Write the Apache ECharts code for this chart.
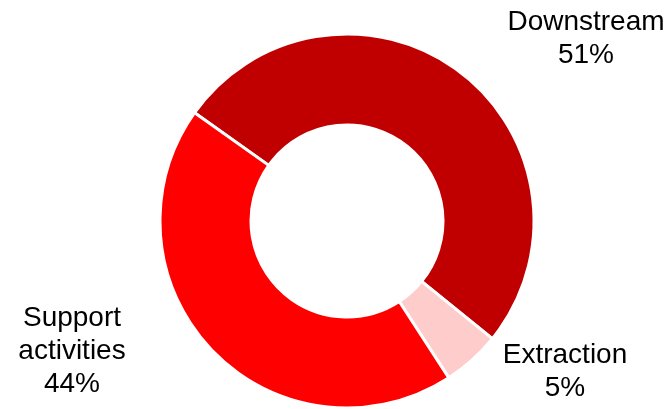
<!DOCTYPE html>
<html>
<head>
<meta charset="utf-8">
<script src="https://cdn.jsdelivr.net/npm/echarts@6/dist/echarts.min.js"></script>
<style>html,body{margin:0;padding:0;background:#fff;}#c{width:666px;height:409px;}</style>
</head>
<body>
<div id="c"></div>
<script>
const categories = ['Downstream', 'Extraction', 'Support activities'];
const labelNames = ['Downstream', 'Extraction', 'Support\nactivities'];
const values = [51, 5, 44];
const colors = ['#C00000', '#FFCCCC', '#FF0000'];
const labelSpots = [[586, 39], [565, 372], [72, 351]];

const chart = echarts.init(document.getElementById('c'), null, {renderer: 'canvas'});
chart.setOption({
  animation: false,
  backgroundColor: '#ffffff',
  series: [{
    type: 'pie',
    center: [347, 221],
    radius: [96, 187],
    startAngle: 144.6,
    clockwise: true,
    avoidLabelOverlap: false,
    data: categories.map((c, i) => ({
      name: c,
      value: values[i],
      itemStyle: {color: colors[i]},
      label: {formatter: labelNames[i] + '\n' + values[i] + '%'}
    })),
    itemStyle: {borderColor: '#ffffff', borderWidth: 3},
    label: {
      show: true,
      position: 'outside',
      color: '#000000',
      fontFamily: 'Liberation Sans, Arial, sans-serif',
      fontSize: 28,
      lineHeight: 33,
      align: 'center'
    },
    labelLine: {show: false},
    labelLayout: function (p) {
      const s = labelSpots[p.dataIndex];
      return {x: s[0], y: s[1], align: 'center', verticalAlign: 'middle'};
    }
  }]
});
</script>
</body>
</html>
